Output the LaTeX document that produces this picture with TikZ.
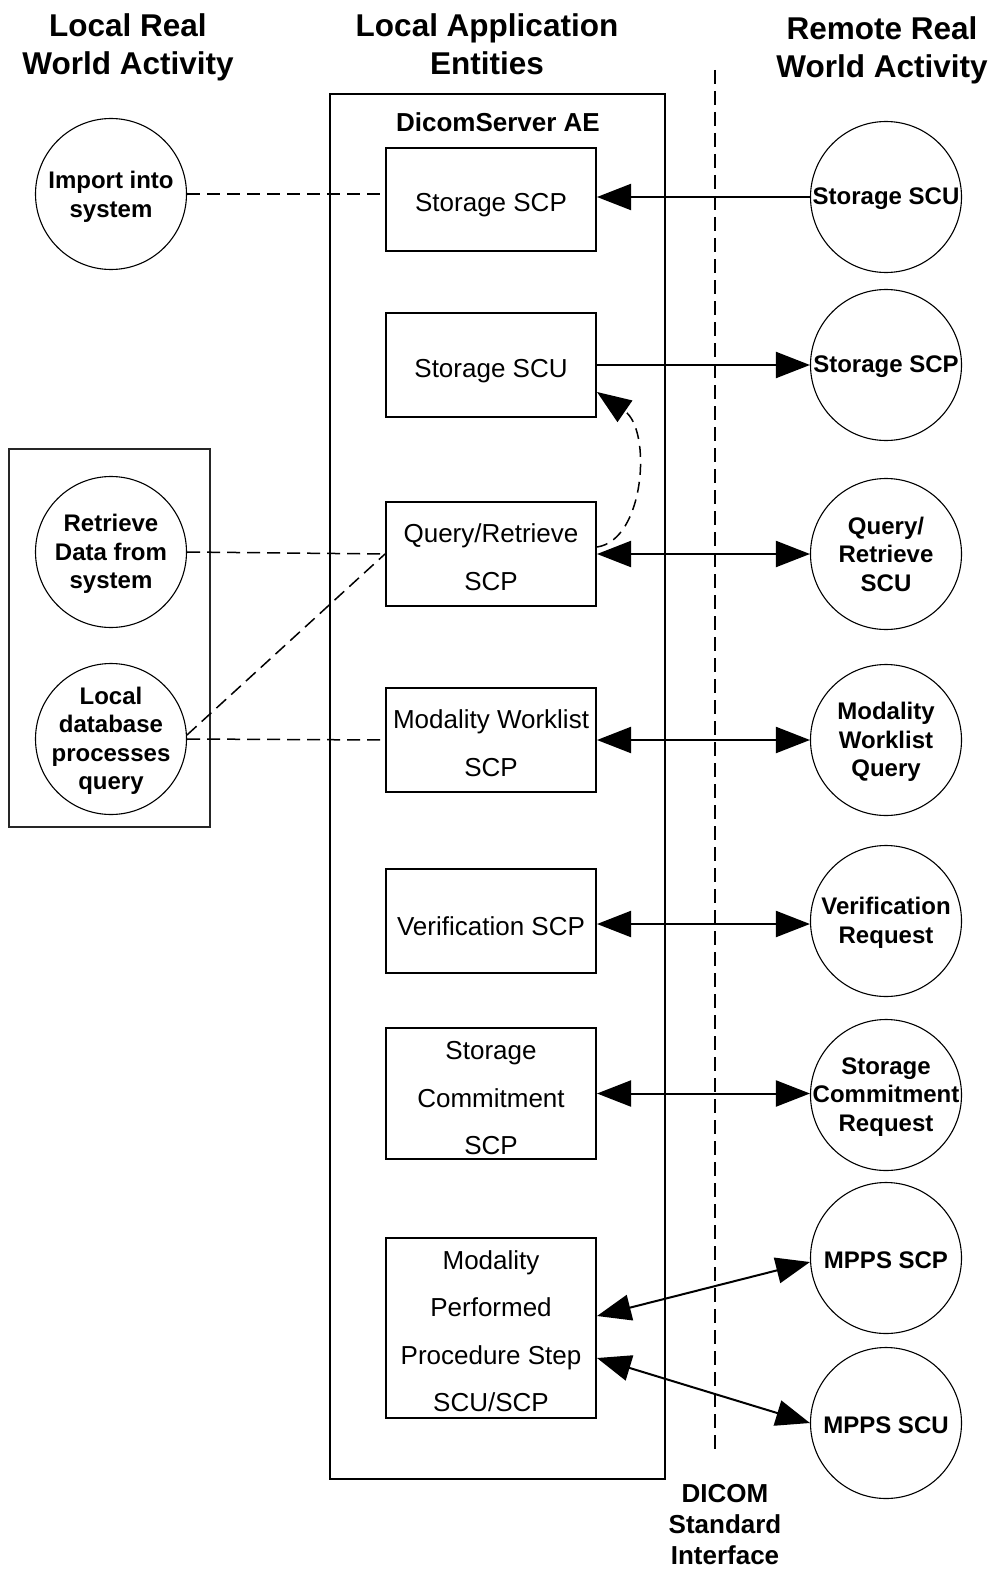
\documentclass[tikz,border=0pt]{standalone}
\usepackage{fontspec}
\setmainfont{Liberation Sans}
\usetikzlibrary{arrows.meta,calc}
\begin{document}
\begin{tikzpicture}[x=1pt,y=-1pt,
  box/.style={draw, line width=2pt, minimum width=210pt, inner sep=0pt},
  btext/.style={font=\fontsize{26}{47.5}\selectfont, align=center, inner sep=0pt},
  rc/.style={draw, circle, line width=1.1pt, minimum size=151pt, inner sep=0pt},
  ctext/.style={font=\bfseries\fontsize{24}{28.5}\selectfont, align=center, inner sep=0pt, yshift=-2pt},
  titletext/.style={font=\bfseries\fontsize{31.5}{38}\selectfont, align=center, inner sep=0pt},
  arr/.style={line width=2pt, -{Triangle[length=34pt,width=26pt]}},
  darr/.style={line width=2pt, {Triangle[length=34pt,width=26pt]}-{Triangle[length=34pt,width=26pt]}},
  dline/.style={line width=1.5pt, dash pattern=on 13pt off 7pt},
  vline/.style={line width=1.5pt, dash pattern=on 14pt off 7pt},
]
\useasboundingbox (0,0) rectangle (995,1570);

% titles
\node[titletext] (t1) at (128,47) {Local Real\\World Activity};
\node[titletext] (t2) at (487,44) {Local Application\\Entities};
\node[titletext] (t3) at (882,50) {Remote Real\\World Activity};

% AE box and left group box
\node[draw, line width=2pt, minimum width=335pt, minimum height=1385pt, inner sep=0pt] (ae) at (497.5,786.5) {};
\node[font=\bfseries\fontsize{26}{30}\selectfont, inner sep=0pt] (aet) at (498,122) {DicomServer AE};
\node[draw, line width=1.2pt, draw=black!85, minimum width=201pt, minimum height=378pt, inner sep=0pt] (grp) at (109.5,638) {};

% DICOM interface line
\coordinate (vtop) at (715,70);
\coordinate (vbot) at (715,1455);
\draw[vline] (vtop) -- (vbot);
\node[font=\bfseries\fontsize{26}{31}\selectfont, align=center, inner sep=0pt] (dicom) at (725,1525) {DICOM\\Standard\\Interface};

% boxes
\node[box, minimum height=103pt, label={[btext, yshift=-6pt]center:Storage SCP}] (b1) at (491,199.5) {};
\node[box, minimum height=104pt, label={[btext, yshift=-6pt]center:Storage SCU}] (b2) at (491,365) {};
\node[box, minimum height=104pt, label={[btext, yshift=-3pt]center:{Query/Retrieve\\SCP}}] (b3) at (491,554) {};
\node[box, minimum height=104pt, label={[btext, yshift=-3pt]center:{Modality Worklist\\SCP}}] (b4) at (491,740) {};
\node[box, minimum height=104pt, label={[btext, yshift=-5pt]center:Verification SCP}] (b5) at (491,921) {};
\node[box, minimum height=131pt, label={[btext, yshift=-5pt]center:{Storage\\Commitment\\SCP}}] (b6) at (491,1093.5) {};
\node[box, minimum height=180pt, label={[btext, yshift=-3pt]center:{Modality\\Performed\\Procedure Step\\SCU/SCP}}] (b7) at (491,1328) {};

% right circles
\node[rc, label={[ctext]center:Storage SCU}] (r1) at (886,197) {};
\node[rc, label={[ctext]center:Storage SCP}] (r2) at (886,365) {};
\node[rc, label={[ctext, yshift=2pt]center:{Query/\\Retrieve\\SCU}}] (r3) at (886,554) {};
\node[rc, label={[ctext]center:{Modality\\Worklist\\Query}}] (r4) at (886,740) {};
\node[rc, label={[ctext]center:{Verification\\Request}}] (r5) at (886,921) {};
\node[rc, label={[ctext]center:{Storage\\Commitment\\Request}}] (r6) at (886,1095) {};
\node[rc, label={[ctext]center:MPPS SCP}] (r7) at (886,1258) {};
\node[rc, label={[ctext]center:MPPS SCU}] (r8) at (886,1423) {};

% left circles
\node[rc, label={[ctext, yshift=-1pt]center:{Import into\\system}}] (l1) at (111,194) {};
\node[rc, label={[ctext]center:{Retrieve\\Data from\\system}}] (l2) at (111,552) {};
\node[rc, label={[ctext]center:{Local\\database\\processes\\query}}] (l3) at (111,739) {};

% solid connectors
\draw[arr] (r1.west) -- (r1.west -| b1.east);
\draw[arr] (b2.east) -- (b2.east -| r2.west);
\draw[darr] (b3.east) -- (r3.west);
\draw[darr] (b4.east) -- (r4.west);
\draw[darr] ([yshift=-3pt]b5.east) -- ([yshift=-3pt]b5.east -| r5.west);
\draw[darr] (b6.east) -- (b6.east -| r6.west);
\draw[darr] ([yshift=12pt]b7.east) -- ([yshift=-4pt]r7.west);
\draw[darr] ([yshift=-30pt]b7.east) -- (r8.west);

% dashed connectors
\draw[dline] (l1.east) -- (l1.east -| b1.west);
\draw[dline] (l2.east) -- (b3.west);
\draw[dline] (l3.east) -- (b4.west);
\draw[dline] (l3.3) -- (b3.west);
\draw[line width=1.5pt, dash pattern=on 11pt off 7pt, -{Triangle[length=34pt,width=26pt]}]
  ([yshift=7pt]b3.east) .. controls (645,540) and (652,430) .. ([yshift=-27pt]b2.east);
\end{tikzpicture}
\end{document}
